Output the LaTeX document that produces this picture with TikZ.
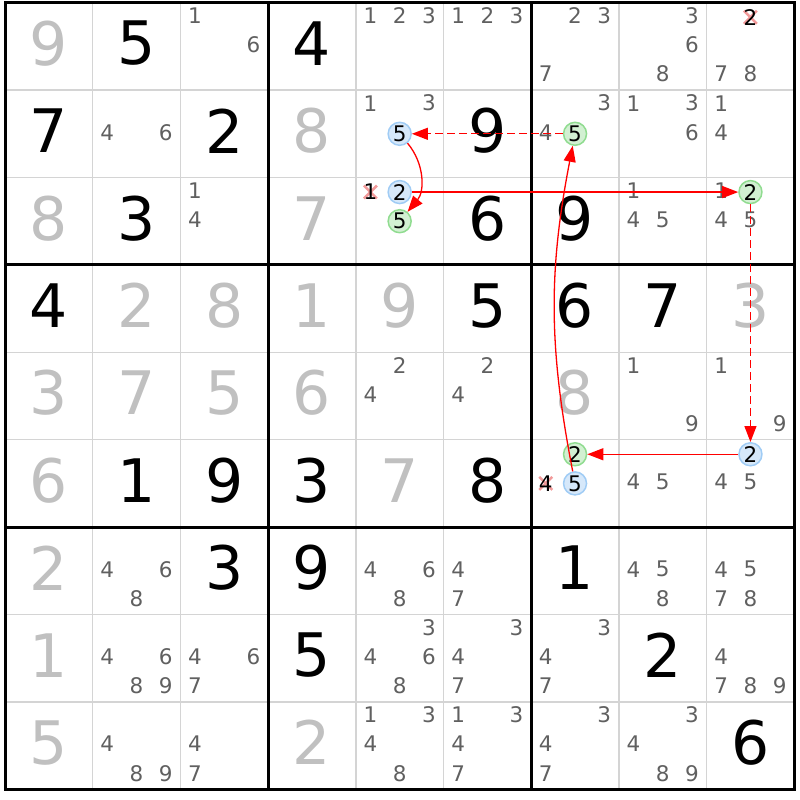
\documentclass[tikz,border=0pt]{standalone}
\usepackage{fontspec}
\setmainfont{DejaVu Sans}
\usetikzlibrary{arrows.meta}

\definecolor{givgrey}{HTML}{C0C0C0}
\definecolor{candgrey}{HTML}{606060}
\definecolor{gridgrey}{HTML}{D4D4D4}
\definecolor{bluefill}{HTML}{D6E8FA}
\definecolor{bluedraw}{HTML}{A0CCF5}
\definecolor{greenfill}{HTML}{D2F0D2}
\definecolor{greendraw}{HTML}{90DC90}
\definecolor{strikepink}{HTML}{F29A9A}

\tikzset{
  thinline/.style={gridgrey, line width=1.5pt},
  boxline/.style={black, line width=3pt, line cap=rect},
  given/.style={inner sep=0pt, yshift=3pt, font=\fontsize{60}{60}\selectfont},
  givenpale/.style={given, text=givgrey},
  cand/.style={inner sep=0pt, yshift=1.5pt, text=candgrey, font=\fontsize{21.5}{21.5}\selectfont},
  candk/.style={inner sep=0pt, text=black, font=\fontsize{21.5}{21.5}\selectfont},
  hiblue/.style={candk, circle, minimum size=23pt, fill=bluefill, draw=bluedraw, line width=1.5pt},
  higreen/.style={candk, circle, minimum size=23pt, fill=greenfill, draw=greendraw, line width=1.5pt},
  strike/.style={strikepink, line width=2.5pt},
  link/.style={red, line width=1.3pt, -{Triangle[length=16pt,width=12pt]}},
  weak/.style={link, dash pattern=on 8pt off 4pt}
}

% grid origin and cell size
\def\gx{5}
\def\gy{2.7}
\def\cellw{87.7}
\def\cellh{87.4}

% centre of candidate #3 in row #1, column #2
\newcommand{\candxy}[3]{%
  \pgfmathsetmacro\px{\gx+(#2+mod(#3-1,3)/3+1/6)*\cellw}%
  \pgfmathsetmacro\py{\gy+(#1+floor((#3-1)/3)/3+1/6)*\cellh}}
\newcommand{\hilite}[4]{\candxy{#1}{#2}{#3}\node[#4] (h#1#2#3) at (\px,\py) {#3};}
\newcommand{\struck}[3]{\candxy{#1}{#2}{#3}%
  \draw[strike] ({\px-6.5},{\py-6.5}) -- ({\px+6.5},{\py+6.5});
  \draw[strike] ({\px-6.5},{\py+6.5}) -- ({\px+6.5},{\py-6.5});
  \node[candk] (x#1#2#3) at (\px,\py) {#3};}

\begin{document}
\begin{tikzpicture}[x=1pt, y=-1pt]
  \useasboundingbox (0,0) rectangle (800,800);

  % cell lines
  \foreach \i in {1,...,8} {
    \draw[thinline] ({\gx+\i*\cellw},\gy) -- ({\gx+\i*\cellw},{\gy+9*\cellh});
    \draw[thinline] (\gx,{\gy+\i*\cellh}) -- ({\gx+9*\cellw},{\gy+\i*\cellh});
  }
  % box lines
  \foreach \i in {3,6} {
    \draw[boxline] ({\gx+\i*\cellw},\gy) -- ({\gx+\i*\cellw},{\gy+9*\cellh});
    \draw[boxline] (\gx,{\gy+\i*\cellh}) -- ({\gx+9*\cellw},{\gy+\i*\cellh});
  }
  \draw[boxline] (\gx,\gy) rectangle ({\gx+9*\cellw},{\gy+9*\cellh});

  % solved digits
  \foreach \r/\c/\d in {0/1/5, 0/3/4, 1/0/7, 1/2/2, 1/5/9, 2/1/3, 2/5/6, 2/6/9,
      3/0/4, 3/5/5, 3/6/6, 3/7/7, 5/1/1, 5/2/9, 5/3/3, 5/5/8, 6/2/3, 6/3/9,
      6/6/1, 7/3/5, 7/7/2, 8/8/6}
    \node[given] (g\r\c) at ({\gx+(\c+0.5)*\cellw},{\gy+(\r+0.5)*\cellh}) {\d};
  \foreach \r/\c/\d in {0/0/9, 1/3/8, 2/0/8, 2/3/7, 3/1/2, 3/2/8, 3/3/1, 3/4/9,
      3/8/3, 4/0/3, 4/1/7, 4/2/5, 4/3/6, 4/6/8, 5/0/6, 5/4/7, 6/0/2, 7/0/1,
      8/0/5, 8/3/2}
    \node[givenpale] (g\r\c) at ({\gx+(\c+0.5)*\cellw},{\gy+(\r+0.5)*\cellh}) {\d};

  % pencil marks
  \foreach \r/\c/\ds in {0/2/{1,6}, 0/4/{1,2,3}, 0/5/{1,2,3}, 0/6/{2,3,7},
      0/7/{3,6,8}, 0/8/{7,8}, 1/1/{4,6}, 1/4/{1,3}, 1/6/{3,4}, 1/7/{1,3,6},
      1/8/{1,4}, 2/2/{1,4}, 2/7/{1,4,5}, 2/8/{1,4,5}, 4/4/{2,4}, 4/5/{2,4},
      4/7/{1,9}, 4/8/{1,9}, 5/7/{4,5}, 5/8/{4,5}, 6/1/{4,6,8}, 6/4/{4,6,8},
      6/5/{4,7}, 6/7/{4,5,8}, 6/8/{4,5,7,8}, 7/1/{4,6,8,9}, 7/2/{4,6,7},
      7/4/{3,4,6,8}, 7/5/{3,4,7}, 7/6/{3,4,7}, 7/8/{4,7,8,9}, 8/1/{4,8,9},
      8/2/{4,7}, 8/4/{1,3,4,8}, 8/5/{1,3,4,7}, 8/6/{3,4,7}, 8/7/{3,4,8,9}}
    \foreach \d in \ds {
      \candxy{\r}{\c}{\d}
      \node[cand] (c\r\c\d) at (\px,\py) {\d};
    }

  % eliminations
  \struck{0}{8}{2}
  \struck{2}{4}{1}
  \struck{5}{6}{4}

  % chain
  \hilite{1}{4}{5}{hiblue}
  \hilite{1}{6}{5}{higreen}
  \hilite{2}{4}{2}{hiblue}
  \hilite{2}{4}{5}{higreen}
  \hilite{2}{8}{2}{higreen}
  \hilite{5}{8}{2}{hiblue}
  \hilite{5}{6}{2}{higreen}
  \hilite{5}{6}{5}{hiblue}

  \draw[weak] (h165) -- (h145);
  \draw[link] (h145) to[bend left=40] (h245);
  \draw[link] (h242) -- (h282);
  \draw[weak] (h282) -- (h582);
  \draw[link] (h582) -- (h562);
  \draw[link] (h565) to[bend left=11] (h165);
\end{tikzpicture}
\end{document}
